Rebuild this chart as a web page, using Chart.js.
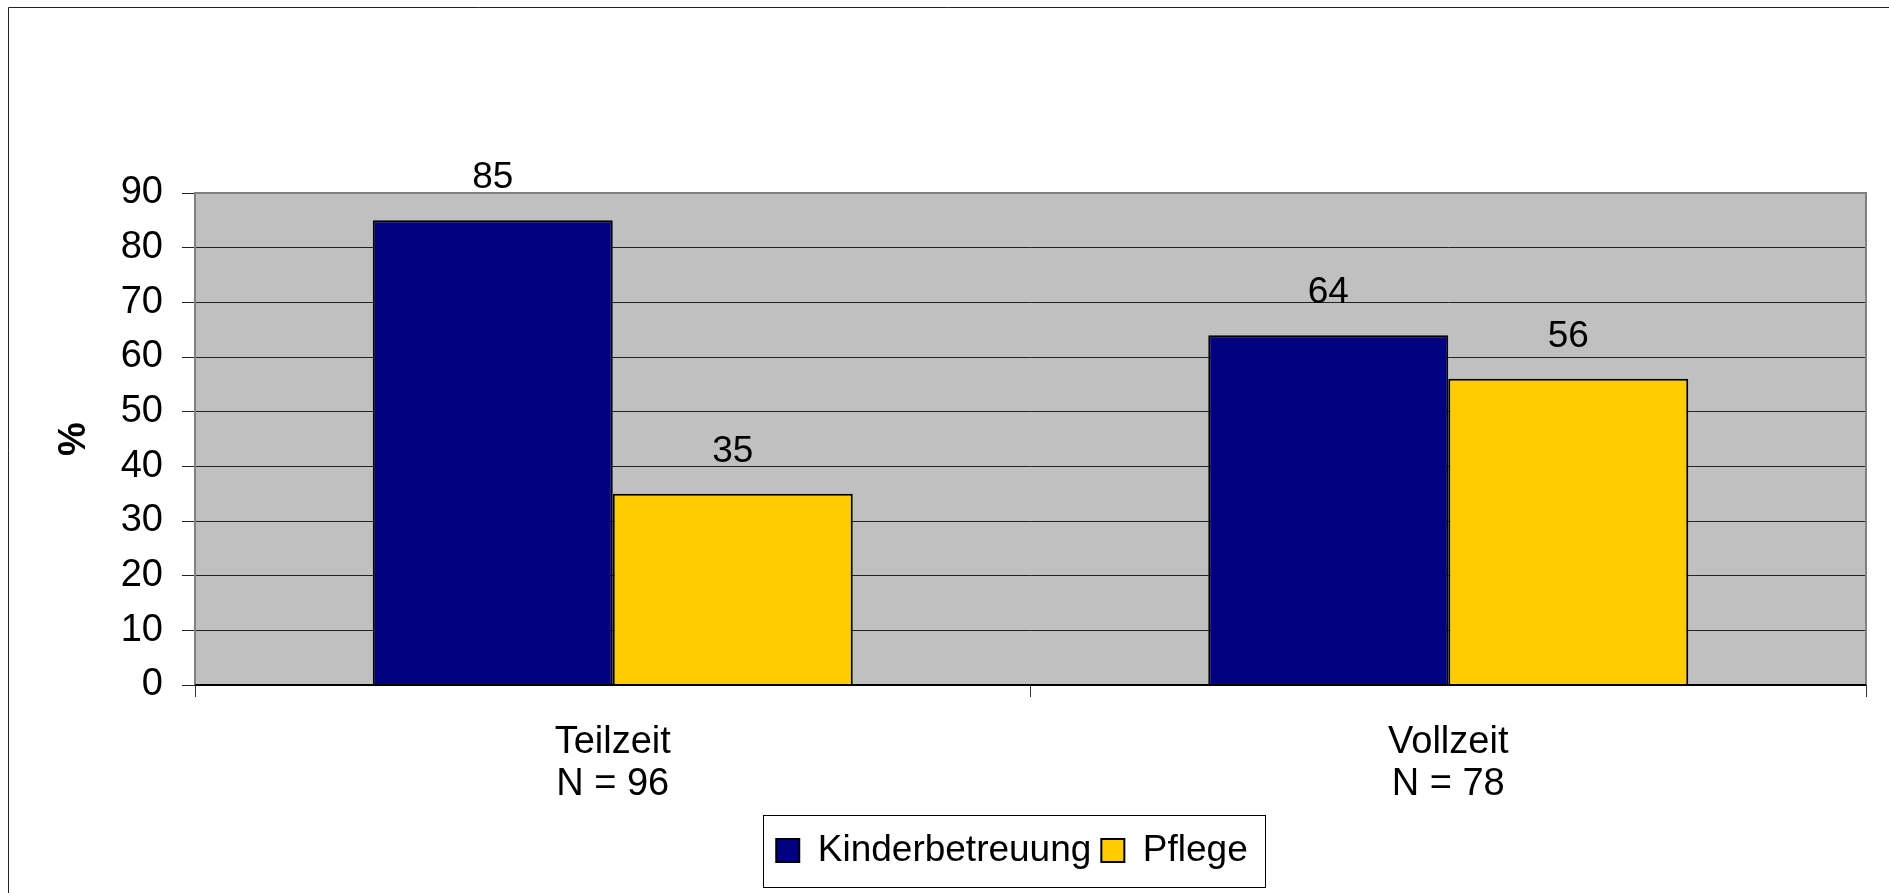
<!DOCTYPE html>
<html>
<head>
<meta charset="utf-8">
<script src="https://cdn.jsdelivr.net/npm/chart.js@4.4.0/dist/chart.umd.min.js"></script>
<style>
	html, body { margin: 0; padding: 0; background: #fff; }
	#wrap { width: 1889px; height: 893px; position: relative; }
</style>
</head>
<body>
<div id="wrap"><canvas id="chart"></canvas></div>
<script>
const categories = [['Teilzeit', 'N = 96'], ['Vollzeit', 'N = 78']];
const kinderbetreuung = [85, 64];
const pflege = [35, 56];
const yTicks = [0, 10, 20, 30, 40, 50, 60, 70, 80, 90];

const FONT = "'Liberation Sans', Arial, sans-serif";

// plot background, plot frame, outer frame and legend frame
const framePlugin = {
	id: 'frames',
	afterLayout(chart) {
		// legend sits a bit right of the page centre in the original
		chart.legend.left += 150;
	},
	beforeDraw(chart) {
		const ctx = chart.ctx;
		const a = chart.chartArea;
		ctx.save();
		ctx.fillStyle = '#c0c0c0';
		ctx.fillRect(a.left, a.top, a.right - a.left, a.bottom - a.top);
		ctx.strokeStyle = '#222';
		ctx.lineWidth = 1;
		ctx.beginPath();
		ctx.moveTo(8.5, chart.height);
		ctx.lineTo(8.5, 7.5);
		ctx.lineTo(chart.width, 7.5);
		ctx.stroke();
		ctx.restore();
	},
	afterDraw(chart) {
		const ctx = chart.ctx;
		const a = chart.chartArea;
		ctx.save();
		ctx.strokeStyle = '#808080';
		ctx.lineWidth = 2;
		ctx.beginPath();
		ctx.moveTo(a.left, a.bottom);
		ctx.lineTo(a.left, a.top);
		ctx.lineTo(a.right, a.top);
		ctx.lineTo(a.right, a.bottom);
		ctx.stroke();
		ctx.strokeStyle = '#000';
		ctx.lineWidth = 2;
		ctx.beginPath();
		ctx.moveTo(a.left, a.bottom);
		ctx.lineTo(a.right, a.bottom);
		ctx.stroke();

		const boxes = chart.legend.legendHitBoxes;
		if(boxes && boxes.length)
		{
			let l = Math.min(...boxes.map(b => b.left)) - 13;
			let r = Math.max(...boxes.map(b => b.left + b.width)) + 17;
			let cy = boxes[0].top + boxes[0].height / 2;
			ctx.strokeStyle = '#000';
			ctx.lineWidth = 1;
			ctx.strokeRect(Math.round(l) + 0.5, Math.round(cy - 36) + 0.5, Math.round(r - l), 72);
		}
		ctx.restore();
	},
};

// value labels above the bars
const valuePlugin = {
	id: 'values',
	afterDatasetsDraw(chart) {
		const ctx = chart.ctx;
		ctx.save();
		ctx.font = '37px ' + FONT;
		ctx.fillStyle = '#000';
		ctx.textAlign = 'center';
		ctx.textBaseline = 'alphabetic';
		chart.data.datasets.forEach((ds, i) => {
			chart.getDatasetMeta(i).data.forEach((bar, j) => {
				ctx.fillText(ds.data[j], bar.x, bar.y - 32);
			});
		});
		ctx.restore();
	},
};

new Chart(document.getElementById('chart'), {
	type: 'bar',
	data: {
		labels: categories,
		datasets: [
			{
				label: 'Kinderbetreuung',
				data: kinderbetreuung,
				backgroundColor: '#000080',
				borderColor: '#000',
				borderWidth: 2,
				categoryPercentage: 0.5745,
				barPercentage: 1,
			},
			{
				label: 'Pflege',
				data: pflege,
				backgroundColor: '#ffcc00',
				borderColor: '#000',
				borderWidth: 2,
				categoryPercentage: 0.5745,
				barPercentage: 1,
			},
		],
	},
	options: {
		responsive: true,
		maintainAspectRatio: false,
		animation: false,
		layout: {
			padding: {left: 8, right: 23, top: 193, bottom: 14},
		},
		scales: {
			x: {
				grid: {
					offset: true,
					drawOnChartArea: false,
					drawTicks: true,
					tickLength: 12,
					color: '#333',
				},
				border: {display: false},
				ticks: {
					color: '#000',
					font: {family: FONT, size: 38, lineHeight: 1.12},
					padding: 24,
					maxRotation: 0,
				},
				afterFit: function(scale) {
					scale.height = 137;
				},
			},
			y: {
				min: 0,
				max: 90,
				afterBuildTicks: function(scale) {
					scale.ticks = yTicks.map(v => ({value: v}));
				},
				grid: {
					color: '#222',
					lineWidth: 1,
					tickLength: 13,
					drawTicks: true,
				},
				border: {display: false},
				ticks: {
					color: '#000',
					font: {family: FONT, size: 38},
					padding: 19,
				},
				title: {
					display: true,
					text: '%',
					color: '#000',
					font: {family: FONT, size: 38, weight: 'bold'},
					padding: {top: 44, bottom: 0},
				},
				afterFit: function(scale) {
					scale.width = 187;
				},
			},
		},
		plugins: {
			legend: {
				position: 'bottom',
				labels: {
					color: '#000',
					font: {family: FONT, size: 37},
					boxWidth: 23,
					boxHeight: 23,
					padding: 10,
				},
			},
			tooltip: {enabled: false},
		},
	},
	plugins: [framePlugin, valuePlugin],
});
</script>
</body>
</html>
